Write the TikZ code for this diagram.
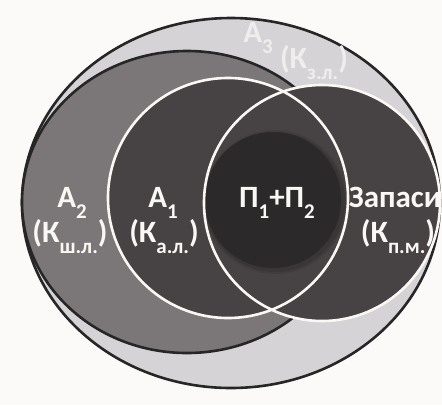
\documentclass[tikz,border=0pt]{standalone}
\usepackage{fontspec}
\setmainfont{Carlito}
\definecolor{bgcol}{HTML}{FCFAF8}
\definecolor{outerfill}{HTML}{D5D3D5}
\definecolor{midgrey}{HTML}{7B7778}
\definecolor{darkgrey}{HTML}{474344}
\definecolor{coregrey}{HTML}{2C292A}
\definecolor{txtcol}{HTML}{FAF8F5}
\definecolor{txtlight}{HTML}{EFEDED}
\newcommand\lowsub[1]{\raisebox{-11pt}{\fontsize{21}{21}\selectfont #1}}
\begin{document}
\begin{tikzpicture}[x=1pt,y=-1pt,
  blackline/.style={draw=black!85, line width=2.6pt},
  whiteline/.style={draw=txtcol, line width=2.6pt},
  label/.style={text=txtcol, font=\fontsize{31}{31}\selectfont\bfseries, anchor=base, inner sep=0pt},
  labellight/.style={label, text=txtlight}]
\fill[bgcol] (0,0) rectangle (442,405);
\useasboundingbox (0,0) rectangle (442,405);
% A3 outer ellipse
\draw[blackline, fill=outerfill] (231,203) ellipse [x radius=209pt, y radius=185pt];
% A2 ellipse
\draw[blackline, fill=midgrey] (187,202) ellipse [x radius=165pt, y radius=151pt];
% dark circles
\fill[darkgrey] (228,198) circle (120pt);
\fill[darkgrey] (322,203) circle (118pt);
% core circle with soft edge
\fill[black, opacity=0.08] (275,202) circle (72pt);
\fill[black, opacity=0.10] (275,202) circle (70pt);
\fill[coregrey] (273,200) circle (68pt);
% white outlines
\draw[whiteline] (228,198) circle (120pt);
\draw[whiteline] (322,203) circle (118pt);
% labels
\node[label] (a2) at (72,207) {А\lowsub{2}};
\node[label] (k2) at (70,242) {(К\lowsub{ш.л.})};
\node[label] (a1) at (163,207) {А\lowsub{1}};
\node[label] (k1) at (164,242) {(К\lowsub{а.л.})};
\node[label] (p) at (277,207) {П\lowsub{1}+П\lowsub{2}};
\node[label] (z) at (395,207) {Запаси};
\node[label] (kz) at (398,242) {(К\lowsub{п.м.})};
\node[labellight] (a3) at (258,42) {А\lowsub{3}};
\node[labellight] (k3) at (314,68) {(К\lowsub{з.л.})};
\end{tikzpicture}
\end{document}
